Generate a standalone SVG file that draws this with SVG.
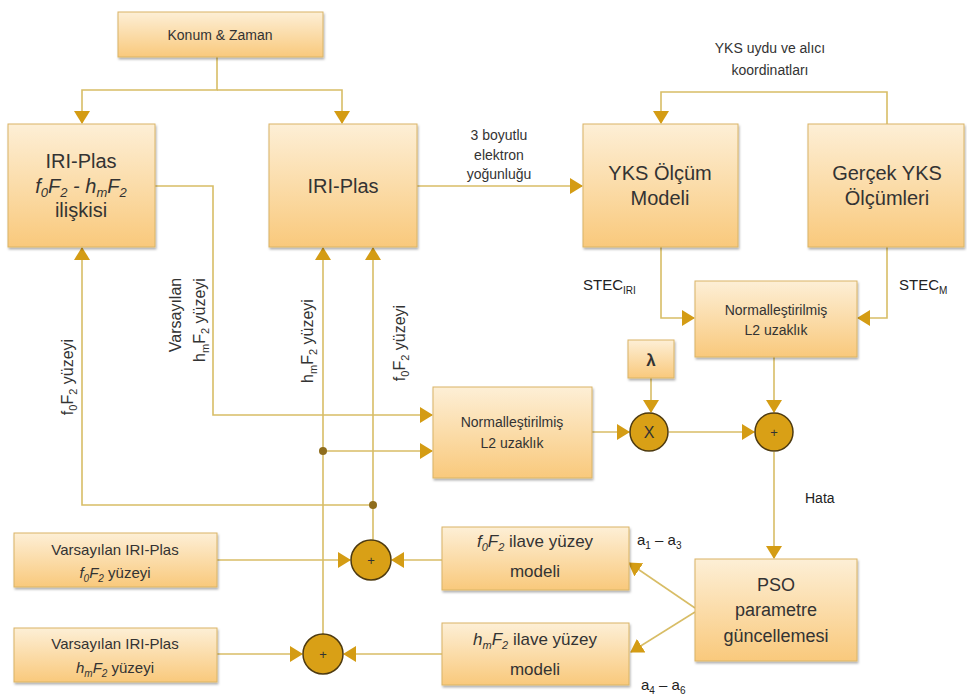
<svg xmlns="http://www.w3.org/2000/svg" width="967" height="697" viewBox="0 0 967 697">
<defs>
<linearGradient id="g" x1="0" y1="0" x2="0" y2="1">
<stop offset="0" stop-color="#fdefd6"/>
<stop offset="1" stop-color="#f9c97c"/>
</linearGradient>
<filter id="sh" x="-10%" y="-10%" width="130%" height="130%">
<feDropShadow dx="1" dy="2" stdDeviation="1.2" flood-color="#000" flood-opacity="0.3"/>
</filter>
<marker id="a" markerUnits="userSpaceOnUse" markerWidth="14" markerHeight="16" refX="12" refY="8" orient="auto">
<path d="M0,0 L13,8 L0,16 z" fill="#d49c14"/>
</marker>
<style>
.box{fill:url(#g);stroke:#d9b466;stroke-width:1;filter:url(#sh)}
.ln{fill:none;stroke:#d8bd66;stroke-width:1.6}
.ar{marker-end:url(#a)}
.t{font-family:"Liberation Sans",Arial,sans-serif;fill:#333;text-anchor:middle}
.l{font-family:"Liberation Sans",Arial,sans-serif;fill:#222}
.c{fill:#d9a016;stroke:#4d3a10;stroke-width:1.5}
.dot{fill:#8f6d1c}
</style>
</defs>
<rect width="967" height="697" fill="#fff"/>

<g id="connectors">
<path class="ln ar" d="M217,57 V90 H82 V123"/>
<path class="ln ar" d="M217,90 H342 V123"/>
<path class="ln ar" d="M155,186 H213 V415 H432"/>
<path class="ln ar" d="M417,186 H582"/>
<path class="ln ar" d="M887,124 V92 H661 V123"/>
<path class="ln ar" d="M661,247 V318 H694"/>
<path class="ln ar" d="M887,247 V318 H858"/>
<path class="ln ar" d="M774,357 V412"/>
<path class="ln ar" d="M592,432 H629"/>
<path class="ln ar" d="M651,378 V412"/>
<path class="ln ar" d="M669,432 H754"/>
<path class="ln ar" d="M774,452 V558"/>
<path class="ln ar" d="M695,608 L629,563"/>
<path class="ln ar" d="M695,612 L631,652"/>
<path class="ln ar" d="M217,560 H350"/>
<path class="ln ar" d="M442,560 H392"/>
<path class="ln ar" d="M373,540 V248"/>
<path class="ln ar" d="M373,505 H82 V248"/>
<path class="ln ar" d="M217,654 H302"/>
<path class="ln ar" d="M442,654 H344"/>
<path class="ln ar" d="M323,634 V248"/>
<path class="ln ar" d="M323,451 H432"/>
<circle class="dot" cx="323" cy="451" r="4"/>
<circle class="dot" cx="373" cy="505" r="4"/>
</g>

<g id="konum">
<rect class="box" x="118" y="12" width="205" height="45"/>
<text class="t" x="220" y="40" font-size="14">Konum &amp; Zaman</text>
</g>

<g id="iri-iliski">
<rect class="box" x="8" y="124" width="147" height="123"/>
<text class="t" x="81" y="168" font-size="20">IRI-Plas</text>
<text class="t" x="81" y="193" font-size="20" font-style="italic">f<tspan font-size="13" dy="4">0</tspan><tspan dy="-4">F</tspan><tspan font-size="13" dy="4">2</tspan><tspan dy="-4"> - h</tspan><tspan font-size="13" dy="4">m</tspan><tspan dy="-4">F</tspan><tspan font-size="13" dy="4">2</tspan></text>
<text class="t" x="81" y="217" font-size="20">ilişkisi</text>
</g>

<g id="iri-plas">
<rect class="box" x="269" y="124" width="148" height="123"/>
<text class="t" x="343" y="193" font-size="20">IRI-Plas</text>
</g>

<g id="yks-model">
<rect class="box" x="583" y="124" width="155" height="123"/>
<text class="t" x="660" y="180" font-size="20">YKS Ölçüm</text>
<text class="t" x="660" y="205" font-size="20">Modeli</text>
</g>

<g id="gercek-yks">
<rect class="box" x="808" y="124" width="156" height="123"/>
<text class="t" x="887" y="180" font-size="20">Gerçek YKS</text>
<text class="t" x="887" y="205" font-size="20">Ölçümleri</text>
</g>

<g id="norm-right">
<rect class="box" x="695" y="281" width="162" height="76"/>
<text class="t" x="776" y="315" font-size="14">Normalleştirilmiş</text>
<text class="t" x="776" y="335" font-size="14">L2 uzaklık</text>
</g>

<g id="lambda">
<rect class="box" x="628" y="340" width="46" height="38"/>
<text class="t" x="651" y="366" font-size="17" font-weight="bold">λ</text>
</g>

<g id="norm-left">
<rect class="box" x="433" y="387" width="159" height="91"/>
<text class="t" x="512" y="427" font-size="14">Normalleştirilmiş</text>
<text class="t" x="512" y="448" font-size="14">L2 uzaklık</text>
</g>

<g id="mult">
<circle class="c" cx="649" cy="432" r="19"/>
<text class="t" x="649" y="438" font-size="16" fill="#6b5010">X</text>
</g>

<g id="sum-top">
<circle class="c" cx="774" cy="432" r="19"/>
<text class="t" x="774" y="437" font-size="13">+</text>
</g>

<g id="pso">
<rect class="box" x="695" y="559" width="162" height="102"/>
<text class="t" x="776" y="591" font-size="18">PSO</text>
<text class="t" x="776" y="616" font-size="18">parametre</text>
<text class="t" x="776" y="642" font-size="18">güncellemesi</text>
</g>

<g id="f0-ilave">
<rect class="box" x="442" y="527" width="187" height="63"/>
<text class="t" x="535" y="547" font-size="17"><tspan font-style="italic">f<tspan font-size="11" dy="4">0</tspan><tspan dy="-4">F</tspan><tspan font-size="11" dy="4">2</tspan></tspan><tspan dy="-4"> ilave yüzey</tspan></text>
<text class="t" x="535" y="577" font-size="17">modeli</text>
</g>

<g id="hm-ilave">
<rect class="box" x="442" y="623" width="187" height="62"/>
<text class="t" x="535" y="645" font-size="17"><tspan font-style="italic">h<tspan font-size="11" dy="4">m</tspan><tspan dy="-4">F</tspan><tspan font-size="11" dy="4">2</tspan></tspan><tspan dy="-4"> ilave yüzey</tspan></text>
<text class="t" x="535" y="675" font-size="17">modeli</text>
</g>

<g id="var-f0">
<rect class="box" x="14" y="533" width="203" height="54"/>
<text class="t" x="115" y="555" font-size="15">Varsayılan IRI-Plas</text>
<text class="t" x="115" y="578" font-size="15"><tspan font-style="italic">f<tspan font-size="10" dy="4">0</tspan><tspan dy="-4">F</tspan><tspan font-size="10" dy="4">2</tspan></tspan><tspan dy="-4"> yüzeyi</tspan></text>
</g>

<g id="var-hm">
<rect class="box" x="14" y="628" width="203" height="54"/>
<text class="t" x="115" y="649" font-size="15">Varsayılan IRI-Plas</text>
<text class="t" x="115" y="673" font-size="15"><tspan font-style="italic">h<tspan font-size="10" dy="4">m</tspan><tspan dy="-4">F</tspan><tspan font-size="10" dy="4">2</tspan></tspan><tspan dy="-4"> yüzeyi</tspan></text>
</g>

<g id="sum-f0">
<circle class="c" cx="371" cy="560" r="20"/>
<text class="t" x="371" y="565" font-size="13">+</text>
</g>

<g id="sum-hm">
<circle class="c" cx="323" cy="654" r="20"/>
<text class="t" x="323" y="659" font-size="13">+</text>
</g>

<g id="labels">
<text class="t" x="770" y="53" font-size="14">YKS uydu ve alıcı</text>
<text class="t" x="770" y="75" font-size="14">koordinatları</text>
<text class="t" x="499" y="140" font-size="14">3 boyutlu</text>
<text class="t" x="499" y="160" font-size="14">elektron</text>
<text class="t" x="499" y="179" font-size="14">yoğunluğu</text>
<text class="l" x="583" y="290" font-size="15">STEC<tspan font-size="10" dy="4">IRI</tspan></text>
<text class="l" x="899" y="290" font-size="15">STEC<tspan font-size="10" dy="4">M</tspan></text>
<text class="l" x="805" y="503" font-size="14">Hata</text>
<text class="l" x="637" y="545" font-size="15">a<tspan font-size="10" dy="4">1</tspan><tspan dy="-4"> – a</tspan><tspan font-size="10" dy="4">3</tspan></text>
<text class="l" x="641" y="690" font-size="15">a<tspan font-size="10" dy="4">4</tspan><tspan dy="-4"> – a</tspan><tspan font-size="10" dy="4">6</tspan></text>
<text class="t" font-size="16" transform="translate(73,377) rotate(-90)">f<tspan font-size="11" dy="4">0</tspan><tspan dy="-4">F</tspan><tspan font-size="11" dy="4">2</tspan><tspan dy="-4"> yüzeyi</tspan></text>
<text class="t" font-size="16" transform="translate(181,315) rotate(-90)">Varsayılan</text>
<text class="t" font-size="16" transform="translate(205,320) rotate(-90)">h<tspan font-size="11" dy="4">m</tspan><tspan dy="-4">F</tspan><tspan font-size="11" dy="4">2</tspan><tspan dy="-4"> yüzeyi</tspan></text>
<text class="t" font-size="16" transform="translate(313,341) rotate(-90)">h<tspan font-size="11" dy="4">m</tspan><tspan dy="-4">F</tspan><tspan font-size="11" dy="4">2</tspan><tspan dy="-4"> yüzeyi</tspan></text>
<text class="t" font-size="16" transform="translate(405,343) rotate(-90)">f<tspan font-size="11" dy="4">0</tspan><tspan dy="-4">F</tspan><tspan font-size="11" dy="4">2</tspan><tspan dy="-4"> yüzeyi</tspan></text>
</g>
</svg>
